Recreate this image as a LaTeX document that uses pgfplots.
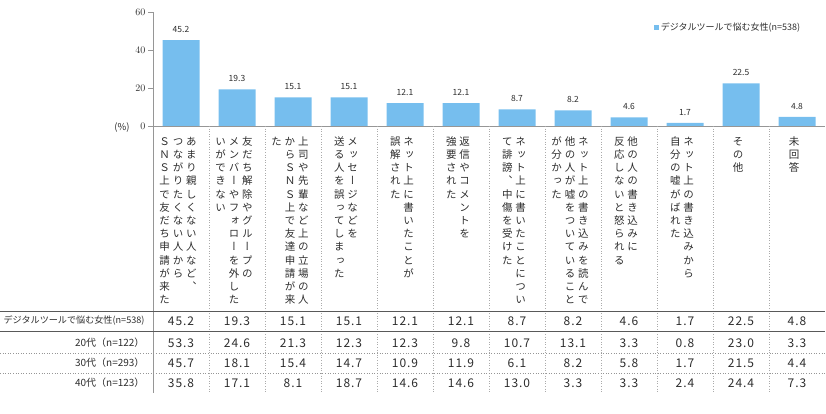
\documentclass[border=0pt]{standalone}
\usepackage{pgfplots}
\pgfplotsset{compat=1.18}
\usepackage{pgfplotstable}
\usepackage{fontspec}
\setmainfont{Noto Sans CJK JP}
\newfontfamily\cjkv[RawFeature=+vert]{Noto Sans CJK JP}
\newfontfamily\tblfont[LetterSpace=8]{Noto Sans CJK JP}
\definecolor{barblue}{RGB}{118,190,238}
\definecolor{txt}{RGB}{45,45,45}
\definecolor{axgray}{RGB}{150,150,150}

% one column of vertical text, one character per box
\makeatletter
\newcommand\vcol[1]{\vtop{\offinterlineskip\@tfor\vc@c:=#1\do{\hbox to 13.3pt{\hss\vrule width0pt height 10pt depth 3.2pt\vc@c\hss}}}}
\makeatother

\pgfplotstableread{
x all a20 a30 a40
0 45.2 53.3 45.7 35.8
1 19.3 24.6 18.1 17.1
2 15.1 21.3 15.4 8.1
3 15.1 12.3 14.7 18.7
4 12.1 12.3 10.9 14.6
5 12.1 9.8 11.9 14.6
6 8.7 10.7 6.1 13.0
7 8.2 13.1 8.2 3.3
8 4.6 3.3 5.8 3.3
9 1.7 0.8 1.7 2.4
10 22.5 23.0 21.5 24.4
11 4.8 3.3 4.4 7.3
}\datatab

\begin{document}
\begin{tikzpicture}
\useasboundingbox (0pt,0pt) rectangle (826pt,413pt);
\begin{axis}[
  at={(153pt,287pt)}, anchor=south west,
  scale only axis, width=672pt, height=114pt,
  xmin=-0.5, xmax=11.5, ymin=0, ymax=60,
  clip=false,
  axis x line*=bottom, axis y line*=left,
  axis line style={draw=axgray, line width=0.8pt, -},
  ytick={0,20,40,60},
  xtick={0,...,11},
  x tick style={draw=none},
  y tick style={draw=axgray, line width=0.6pt},
  tick align=outside, major tick length=5pt,
  yticklabel style={font=\fontsize{10}{11}\selectfont, text=txt, xshift=1pt},
  xticklabel style={font=\cjkv\fontsize{10.5}{13}\selectfont, text=txt, anchor=north, inner sep=0pt, yshift=-4pt, xshift=-3pt},
  xticklabels={
    {\hbox{\vcol{ＳＮＳ上で友だち申請が来た}\vcol{つながりたくない人から}\vcol{あまり親しくない人など、}}},
    {\hbox{\vcol{いができない}\vcol{メンバーやフォローを外した}\vcol{友だち解除やグループの}}},
    {\hbox{\vcol{た}\vcol{からＳＮＳ上で友達申請が来}\vcol{上司や先輩など上の立場の人}}},
    {\hbox{\vcol{送る人を誤ってしまった}\vcol{メッセージなどを}}},
    {\hbox{\vcol{誤解された}\vcol{ネット上に書いたことが}}},
    {\hbox{\vcol{強要された}\vcol{返信やコメントを}}},
    {\hbox{\vcol{て誹謗、中傷を受けた}\vcol{ネット上に書いたことについ}}},
    {\hbox{\vcol{が分かった}\vcol{他の人が嘘をついていること}\vcol{ネット上の書き込みを読んで}}},
    {\hbox{\vcol{反応しないと怒られる}\vcol{他の人の書き込みに}}},
    {\hbox{\vcol{自分の嘘がばれた}\vcol{ネット上の書き込みから}}},
    {\hbox{\vcol{その他}}},
    {\hbox{\vcol{未回答}}}
  },
  legend style={draw=none, fill=none, at={(0.745,0.868)}, anchor=west, inner sep=0pt,
    font=\fontsize{9}{10}\selectfont, text=txt},
  legend image code/.code={\fill[barblue] (0pt,-2.5pt) rectangle (5pt,2.5pt);},
]
\addplot[ybar, bar width=37pt, fill=barblue, draw=none,
  nodes near coords, point meta=explicit symbolic,
  nodes near coords style={font=\fontsize{8.5}{9}\selectfont, text=txt, yshift=4pt}]
  table[x=x, y=all, meta=all] {\datatab};
\addlegendentry{デジタルツールで悩む女性(n=538)}

% table rows under the chart
\addplot[forget plot, draw=none, mark=none, nodes near coords, point meta=explicit symbolic,
  nodes near coords style={anchor=center, font=\tblfont\fontsize{12}{12}\selectfont, text=txt}]
  table[x=x, y expr=-102.63, meta=all] {\datatab};
\addplot[forget plot, draw=none, mark=none, nodes near coords, point meta=explicit symbolic,
  nodes near coords style={anchor=center, font=\tblfont\fontsize{12}{12}\selectfont, text=txt}]
  table[x=x, y expr=-114.2, meta=a20] {\datatab};
\addplot[forget plot, draw=none, mark=none, nodes near coords, point meta=explicit symbolic,
  nodes near coords style={anchor=center, font=\tblfont\fontsize{12}{12}\selectfont, text=txt}]
  table[x=x, y expr=-124.7, meta=a30] {\datatab};
\addplot[forget plot, draw=none, mark=none, nodes near coords, point meta=explicit symbolic,
  nodes near coords style={anchor=center, font=\tblfont\fontsize{12}{12}\selectfont, text=txt}]
  table[x=x, y expr=-135.3, meta=a40] {\datatab};

% grid of the table
\draw[axgray, line width=0.8pt] (axis cs:-0.5,0) -- (axis cs:-0.5,-140.5);
\pgfplotsinvokeforeach{0.5,1.5,2.5,3.5,4.5,5.5,6.5,7.5,8.5,9.5,10.5}{
  \draw[axgray!80, dotted, line width=0.6pt] (axis cs:#1,0) -- (axis cs:#1,-140.5);
}
\draw[gray!70!black, line width=1pt] (axis cs:-3.232,-97.4) -- (axis cs:11.5,-97.4);
\draw[gray!70!black, line width=1pt] (axis cs:-3.232,-108.4) -- (axis cs:11.5,-108.4);
\draw[axgray, dotted, line width=0.6pt] (axis cs:-3.232,-119.5) -- (axis cs:11.5,-119.5);
\draw[axgray, dotted, line width=0.6pt] (axis cs:-3.232,-130.0) -- (axis cs:11.5,-130.0);

\node[anchor=east, text=txt, font=\fontsize{9.1}{10}\selectfont] at (axis cs:-0.589,-102.63) {デジタルツールで悩む女性(n=538)};
\node[anchor=east, text=txt, font=\fontsize{10}{11}\selectfont] at (axis cs:-0.589,-114.2) {20代（n=122）};
\node[anchor=east, text=txt, font=\fontsize{10}{11}\selectfont] at (axis cs:-0.589,-124.7) {30代（n=293）};
\node[anchor=east, text=txt, font=\fontsize{10}{11}\selectfont] at (axis cs:-0.589,-135.3) {40代（n=123）};
\node[anchor=east, text=txt, font=\fontsize{9.5}{10}\selectfont] at (axis cs:-0.857,-1) {(\%)};
\end{axis}
\end{tikzpicture}
\end{document}
